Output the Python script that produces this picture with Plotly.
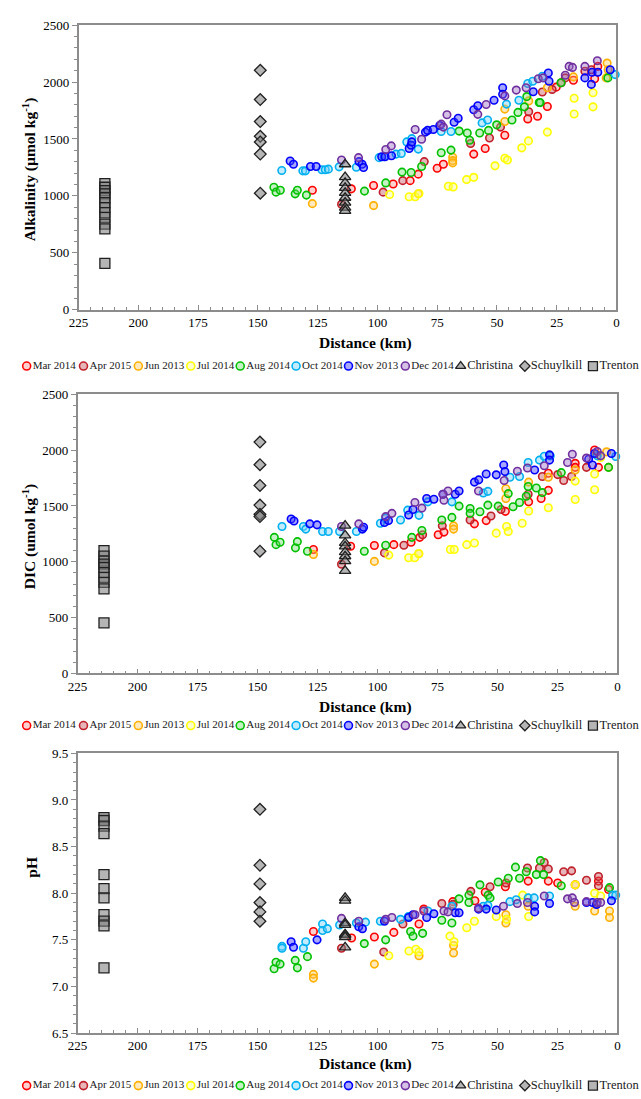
import plotly.graph_objects as go

W, H = 641, 1099

# ---------------- data: Alkalinity (umol/kg) vs distance (km) ----------------
MAR14_ALK_KM = [127.2, 110.9, 101.6, 93.4, 86.3, 82.9, 75.0, 72.4, 59.7, 54.9, 46.7, 37.1, 33.0, 28.9, 25.2, 18.0, 9.1, 7.8]
MAR14_ALK = [1050, 1062, 1091, 1105, 1134, 1191, 1243, 1278, 1367, 1416, 1532, 1676, 1699, 1785, 1955, 2016, 2028, 2137]
APR15_ALK_KM = [115.0, 97.6, 89.4, 80.4, 61.0, 53.1, 48.5, 36.7, 31.0, 26.9, 23.1, 21.4, 13.2, 10.5]
APR15_ALK = [926, 1033, 1134, 1301, 1460, 1509, 1604, 1739, 1912, 1935, 1993, 2036, 2094, 2108]
JUN13_ALK_KM = [127.2, 101.6, 82.9, 68.5, 68.5, 68.5, 46.7, 46.7, 36.7, 28.9, 18.0, 4.3, 3.9, 3.5]
JUN13_ALK = [932, 915, 1018, 1340, 1310, 1290, 1653, 1762, 1834, 1950, 2045, 2036, 2166, 2108]
JUL14_ALK_KM = [94.9, 86.7, 84.2, 82.6, 70.3, 68.3, 62.7, 59.7, 50.8, 46.7, 45.6, 39.6, 36.8, 28.9, 17.7, 17.7, 9.8, 9.8]
JUL14_ALK = [1013, 992, 992, 1021, 1085, 1079, 1143, 1163, 1264, 1330, 1315, 1422, 1483, 1560, 1719, 1857, 1782, 1906]
AUG14_ALK_KM = [143.3, 142.4, 140.6, 134.4, 133.5, 129.7, 105.4, 96.5, 89.7, 85.9, 81.5, 73.3, 69.2, 65.8, 62.4,
                61.4, 57.2, 53.5, 50.1, 43.7, 41.2, 38.5, 37.5, 32.3, 31.9, 23.2, 3.6]
AUG14_ALK = [1076, 1033, 1050, 1018, 1050, 1007, 1042, 1114, 1209, 1206, 1258, 1379, 1402, 1569, 1552,
             1488, 1552, 1575, 1624, 1667, 1733, 1782, 1872, 1820, 1819, 1993, 2036]
OCT14_ALK_KM = [140.0, 131.2, 130.1, 123.2, 121.8, 120.5, 116.0, 108.8, 99.3, 97.2, 92.2, 90.0, 87.7, 85.6, 82.9,
                73.3, 69.2, 56.2, 53.9, 46.0, 40.8, 37.1, 35.0, 31.0, 0.5]
OCT14_ALK = [1223, 1220, 1220, 1229, 1229, 1235, 1255, 1252, 1336, 1344, 1367, 1373, 1474, 1503, 1411,
             1566, 1566, 1641, 1667, 1806, 1840, 1987, 2007, 2051, 2065]
NOV13_ALK_KM = [136.5, 135.1, 128.0, 125.6, 107.7, 106.4, 105.8, 98.2, 96.8, 94.1, 86.7, 85.9, 85.6, 79.9, 79.0,
                76.6, 73.9, 67.9, 66.2, 59.7, 58.0, 51.2, 47.6, 47.6, 34.8, 28.5, 28.2, 13.2, 10.5, 10.2, 7.8, 2.6]
NOV13_ALK = [1307, 1278, 1258, 1258, 1301, 1278, 1249, 1344, 1344, 1353, 1416, 1445, 1474, 1560, 1575,
             1583, 1618, 1647, 1682, 1757, 1791, 1840, 1950, 1892, 1915, 2079, 2007, 2036, 1979, 2085, 2085, 2108]
DEC14_ALK_KM = [115.0, 107.9, 96.5, 94.2, 84.2, 81.5, 73.3, 72.4, 70.9, 58.0, 54.5, 46.7, 41.9, 37.8, 32.7, 30.7,
                21.4, 19.8, 18.4, 13.2, 8.0]
DEC14_ALK = [1315, 1336, 1408, 1439, 1583, 1497, 1630, 1604, 1713, 1716, 1803, 1878, 1929, 1950, 2028, 2036,
             2059, 2137, 2128, 2137, 2186]
CHRISTINA_ALK = [1278, 1165, 1114, 1070, 1027, 984, 941, 897, 868]
SCHUYLKILL_ALK = [2103, 1846, 1653, 1523, 1474, 1367, 1024]
TRENTON_ALK = [1108, 1076, 1047, 1018, 984, 941, 897, 854, 811, 753, 710, 407]

# ---------------- data: DIC (umol/kg) vs distance (km) ----------------
MAR14_DIC_KM = [126.7, 111.2, 101.3, 93.2, 86.0, 82.4, 74.7, 72.3, 59.6, 54.7, 46.7, 37.0, 31.8, 28.8, 28.8, 17.6,
                17.6, 9.5, 7.9]
MAR14_DIC = [1110, 1140, 1146, 1154, 1175, 1219, 1243, 1266, 1340, 1369, 1452, 1537, 1567, 1640, 1793, 1882,
             1846, 2002, 1846]
APR15_DIC_KM = [115.0, 97.1, 89.0, 81.2, 73.0, 61.4, 52.7, 48.5, 37.2, 31.3, 24.9, 22.4, 19.1, 12.9]
APR15_DIC = [978, 1080, 1148, 1243, 1322, 1375, 1410, 1469, 1605, 1764, 1781, 1729, 1764, 1846]
JUN13_DIC_KM = [126.7, 101.3, 82.8, 68.3, 68.3, 46.5, 46.5, 37.0, 28.8, 17.6, 8.7, 4.5, 3.7]
JUN13_DIC = [1066, 1004, 1072, 1322, 1293, 1567, 1655, 1714, 1758, 1823, 1964, 1985, 1846]
JUL14_DIC_KM = [95.3, 87.0, 84.5, 82.8, 69.6, 68.0, 62.8, 59.6, 50.5, 46.2, 45.5, 39.7, 37.0, 28.8, 17.6, 17.6,
                9.5, 9.5, 7.0]
JUL14_DIC = [1060, 1036, 1036, 1075, 1110, 1110, 1154, 1169, 1257, 1316, 1272, 1346, 1455, 1484, 1558, 1723,
             1646, 1787, 1935]
AUG14_DIC_KM = [143.0, 142.3, 140.6, 134.2, 133.4, 129.2, 105.5, 96.6, 85.7, 81.5, 73.2, 69.0, 66.0, 61.4, 61.4,
                57.3, 54.0, 49.7, 45.5, 43.5, 40.8, 38.0, 37.2, 33.8, 31.3, 23.4, 3.7]
AUG14_DIC = [1219, 1154, 1175, 1125, 1181, 1095, 1095, 1148, 1219, 1281, 1375, 1398, 1499, 1478, 1434,
             1449, 1508, 1499, 1611, 1493, 1531, 1587, 1675, 1661, 1620, 1799, 1846]
OCT14_DIC_KM = [139.8, 130.9, 129.9, 122.9, 120.5, 115.8, 108.8, 98.8, 96.6, 90.4, 87.4, 82.7, 79.0, 69.0, 55.9,
                54.0, 44.8, 40.8, 37.2, 32.5, 30.5, 28.0, 8.4, 0.7]
OCT14_DIC = [1316, 1316, 1293, 1272, 1272, 1272, 1272, 1346, 1390, 1375, 1463, 1416, 1537, 1537, 1617,
             1631, 1758, 1764, 1890, 1911, 1946, 1949, 1949, 1943]
NOV13_DIC_KM = [136.0, 134.8, 128.2, 125.2, 106.3, 105.8, 97.1, 95.4, 87.0, 85.2, 79.5, 76.5, 72.7, 67.6, 66.0,
                59.6, 57.8, 54.7, 50.5, 47.4, 46.9, 34.5, 28.3, 28.3, 12.0, 10.4, 9.5, 2.5]
NOV13_DIC = [1384, 1366, 1340, 1331, 1293, 1310, 1352, 1369, 1419, 1469, 1567, 1561, 1605, 1605, 1634,
             1714, 1734, 1787, 1779, 1867, 1808, 1823, 1958, 1911, 1920, 1867, 1970, 1970]
DEC14_DIC_KM = [115.0, 107.8, 96.6, 94.0, 84.4, 81.5, 72.3, 70.6, 72.7, 57.9, 47.2, 41.7, 37.5, 30.5, 20.8, 18.8,
                12.9, 8.4, 7.0]
DEC14_DIC = [1316, 1340, 1405, 1434, 1531, 1481, 1552, 1634, 1605, 1634, 1729, 1811, 1840, 1861, 1890, 1964,
             1929, 1988, 1949]
CHRISTINA_DIC = [1325, 1237, 1169, 1139, 1087, 1050, 1007, 919]
SCHUYLKILL_DIC = [2073, 1870, 1684, 1508, 1425, 1405, 1095]
TRENTON_DIC = [1100, 1051, 1007, 980, 948, 904, 860, 816, 757, 453]

# ---------------- data: pH vs distance (km) ----------------
MAR14_PH_KM = [126.7, 110.8, 101.3, 93.2, 82.7, 80.7, 68.6, 59.4, 55.1, 46.7, 37.2, 28.8, 24.9, 17.6, 7.9, 3.7]
MAR14_PH = [7.59, 7.52, 7.53, 7.58, 7.67, 7.83, 7.91, 7.92, 8.01, 8.07, 8.13, 8.13, 8.11, 8.09, 8.13, 8.04]
APR15_PH_KM = [115.0, 97.4, 89.4, 73.2, 68.5, 61.1, 53.1, 46.4, 37.5, 32.5, 30.5, 28.8, 22.4, 19.1, 12.9, 7.9, 7.9]
APR15_PH = [7.41, 7.37, 7.67, 7.89, 7.88, 8.02, 8.07, 8.11, 8.27, 8.27, 8.33, 8.26, 8.23, 8.24, 8.14, 8.18, 8.08]
JUN13_PH_KM = [126.7, 126.7, 101.3, 82.7, 68.3, 68.3, 46.5, 46.5, 37.2, 17.6, 9.5, 3.3, 3.3]
JUN13_PH = [7.13, 7.09, 7.24, 7.33, 7.44, 7.36, 7.77, 7.68, 7.86, 7.86, 7.81, 7.74, 7.81]
JUL14_PH_KM = [95.3, 86.9, 84.0, 82.7, 69.8, 68.1, 62.8, 59.6, 50.5, 46.2, 39.5, 37.0, 17.6, 9.5, 7.0]
JUL14_PH = [7.33, 7.38, 7.40, 7.37, 7.54, 7.48, 7.63, 7.70, 7.75, 7.72, 7.98, 7.75, 8.09, 8.00, 7.97]
AUG14_PH_KM = [143.1, 142.3, 140.6, 134.3, 133.4, 129.2, 105.5, 96.6, 86.2, 85.2, 81.2, 73.2, 69.0, 66.0, 61.9,
               61.9, 57.3, 53.9, 53.1, 49.7, 45.5, 42.5, 40.8, 38.0, 32.1, 33.8, 30.8, 23.4, 3.3]
AUG14_PH = [7.19, 7.26, 7.24, 7.28, 7.20, 7.32, 7.46, 7.50, 7.59, 7.54, 7.57, 7.71, 7.68, 7.94, 7.98,
            7.90, 8.09, 7.98, 7.95, 8.12, 8.16, 8.28, 8.16, 8.23, 8.35, 8.20, 8.20, 8.08, 8.06]
OCT14_PH_KM = [139.8, 139.8, 130.9, 129.9, 122.9, 122.9, 120.9, 115.8, 108.8, 105.0, 98.8, 90.4, 87.1, 79.0, 69.0,
               55.9, 54.0, 44.8, 42.2, 37.2, 34.7, 28.3, 2.0, 0.7]
OCT14_PH = [7.43, 7.41, 7.41, 7.48, 7.67, 7.60, 7.62, 7.66, 7.68, 7.69, 7.70, 7.72, 7.75, 7.81, 7.86,
            7.86, 7.87, 7.91, 7.93, 7.95, 7.95, 7.97, 7.98, 7.98]
NOV13_PH_KM = [136.0, 135.0, 125.2, 107.8, 106.3, 97.1, 87.0, 85.2, 79.5, 76.5, 67.6, 66.0, 57.9, 54.7, 50.5,
               34.5, 34.5, 28.3, 12.9, 10.4, 8.7, 2.5]
NOV13_PH = [7.48, 7.42, 7.50, 7.64, 7.62, 7.70, 7.74, 7.77, 7.74, 7.78, 7.79, 7.79, 7.83, 7.83, 7.82,
            7.86, 7.80, 7.89, 7.90, 7.90, 7.88, 7.92]
DEC14_PH_KM = [115.0, 107.8, 96.6, 94.0, 84.4, 80.7, 72.3, 70.6, 57.9, 47.5, 41.7, 37.5, 30.5, 20.8, 18.8, 17.9,
               12.9, 8.4, 7.0]
DEC14_PH = [7.73, 7.70, 7.72, 7.74, 7.77, 7.81, 7.81, 7.80, 7.84, 7.86, 7.89, 7.90, 7.97, 7.94, 7.95, 7.90,
            7.91, 7.90, 7.90]
CHRISTINA_PH = [7.95, 7.92, 7.68, 7.66, 7.56, 7.55, 7.53, 7.42]
SCHUYLKILL_PH = [8.90, 8.30, 8.10, 7.90, 7.80, 7.70]
TRENTON_PH = [8.81, 8.78, 8.72, 8.64, 8.20, 8.05, 7.95, 7.77, 7.70, 7.65, 7.20]

# river-mile positions of the end-member stations
CHRISTINA_KM = 113.5
SCHUYLKILL_KM = 149.0
TRENTON_KM = 214.0

SURVEYS = ["Mar 2014", "Apr 2015", "Jun 2013", "Jul 2014", "Aug 2014", "Oct 2014", "Nov 2013", "Dec 2014"]
ENDMEMBERS = ["Christina", "Schuylkill", "Trenton"]

# ---------------- styling ----------------
SURVEY_LINE = ["#FF0000", "#C0202A", "#FFB000", "#FFFF00", "#00C000", "#00B0F0", "#0000FF", "#7030A0"]
SURVEY_FILL = ["rgba(255,120,120,0.35)", "rgba(200,90,100,0.45)", "rgba(255,200,90,0.4)",
               "rgba(255,255,120,0.4)", "rgba(110,220,110,0.4)", "rgba(120,210,250,0.45)",
               "rgba(60,60,255,0.45)", "rgba(150,100,190,0.4)"]
END_SYMBOL = ["triangle-up", "diamond", "square"]
END_SIZE = [10, 9, 10]
END_FILL = "rgba(120,120,120,0.55)"
END_LINE = "#202020"
SERIF = "Liberation Serif, Times New Roman, serif"

panels = [
    dict(km=[MAR14_ALK_KM, APR15_ALK_KM, JUN13_ALK_KM, JUL14_ALK_KM, AUG14_ALK_KM, OCT14_ALK_KM, NOV13_ALK_KM, DEC14_ALK_KM],
         val=[MAR14_ALK, APR15_ALK, JUN13_ALK, JUL14_ALK, AUG14_ALK, OCT14_ALK, NOV13_ALK, DEC14_ALK],
         ends=[CHRISTINA_ALK, SCHUYLKILL_ALK, TRENTON_ALK]),
    dict(km=[MAR14_DIC_KM, APR15_DIC_KM, JUN13_DIC_KM, JUL14_DIC_KM, AUG14_DIC_KM, OCT14_DIC_KM, NOV13_DIC_KM, DEC14_DIC_KM],
         val=[MAR14_DIC, APR15_DIC, JUN13_DIC, JUL14_DIC, AUG14_DIC, OCT14_DIC, NOV13_DIC, DEC14_DIC],
         ends=[CHRISTINA_DIC, SCHUYLKILL_DIC, TRENTON_DIC]),
    dict(km=[MAR14_PH_KM, APR15_PH_KM, JUN13_PH_KM, JUL14_PH_KM, AUG14_PH_KM, OCT14_PH_KM, NOV13_PH_KM, DEC14_PH_KM],
         val=[MAR14_PH, APR15_PH, JUN13_PH, JUL14_PH, AUG14_PH, OCT14_PH, NOV13_PH, DEC14_PH],
         ends=[CHRISTINA_PH, SCHUYLKILL_PH, TRENTON_PH]),
]
end_km = [CHRISTINA_KM, SCHUYLKILL_KM, TRENTON_KM]

# plot boxes in pixels: (left, right, top, bottom)
BOXES = [(70, 619, 18.3, 307), (69, 620, 392.7, 675.7), (69, 620, 756.7, 1040.3)]
Y_RANGES = [[0, 2500], [0, 2500], [6.5, 9.5]]
Y_DTICK = [500, 500, 0.5]
Y_MINOR = [100, 100, 0.1]
Y_FMT = ["d", "d", ".1f"]
Y_TITLES = ["Alkalinity (µmol kg<sup>-1</sup>)", "DIC (umol kg<sup>-1</sup>)", "pH"]
Y_TITLE_POS = [(20, 165), (20, 537), (22, 872)]
X_TITLE_Y = [341, 710, 1072]
LEGEND_Y = [364, 728.5, 1093.5]
LEGEND_X = [17, 75, 131, 184.5, 235, 292, 345.5, 403.5, 460, 525.5, 595]

fig = go.Figure()
layout = dict(width=W, height=H, margin=dict(l=0, r=0, t=0, b=0),
              paper_bgcolor="white", plot_bgcolor="rgba(0,0,0,0)", showlegend=False,
              font=dict(family=SERIF, color="black"))
annotations = []

for p, panel in enumerate(panels):
    n = "" if p == 0 else str(p + 1)
    xa, ya = "x" + n, "y" + n
    for i, name in enumerate(SURVEYS):
        fig.add_trace(go.Scatter(
            x=panel["km"][i], y=panel["val"][i], mode="markers", name=name,
            xaxis=xa, yaxis=ya, cliponaxis=False, hoverinfo="skip",
            marker=dict(symbol="circle", size=7.5, color=SURVEY_FILL[i],
                        line=dict(color=SURVEY_LINE[i], width=1.6))))
    for j, name in enumerate(ENDMEMBERS):
        vals = panel["ends"][j]
        fig.add_trace(go.Scatter(
            x=[end_km[j]] * len(vals), y=vals, mode="markers", name=name,
            xaxis=xa, yaxis=ya, cliponaxis=False, hoverinfo="skip",
            marker=dict(symbol=END_SYMBOL[j], size=END_SIZE[j], color=END_FILL,
                        line=dict(color=END_LINE, width=1.3))))

    l, r, t, b = BOXES[p]
    axis_common = dict(showgrid=False, zeroline=False, showline=True, linecolor="#8C8C8C",
                       linewidth=1.5, mirror=True, tickfont=dict(family=SERIF, size=13, color="black"))
    layout["xaxis" + n] = dict(axis_common, domain=[l / W, r / W], anchor=ya, range=[225, 0],
                               tick0=0, dtick=25, ticks="inside", ticklen=5, tickcolor="#8C8C8C",
                               minor=dict(dtick=5, ticks="inside", ticklen=3, tickcolor="#8C8C8C"))
    layout["yaxis" + n] = dict(axis_common, domain=[1 - b / H, 1 - t / H], anchor=xa,
                               range=Y_RANGES[p], dtick=Y_DTICK[p], tickformat=Y_FMT[p],
                               ticks="outside", ticklen=5, tickcolor="#8C8C8C",
                               minor=dict(dtick=Y_MINOR[p], ticks="outside", ticklen=3, tickcolor="#8C8C8C"))

    # axis titles
    tx, ty = Y_TITLE_POS[p]
    annotations.append(dict(text=f"<b>{Y_TITLES[p]}</b>", x=tx / W, y=1 - ty / H, xref="paper", yref="paper",
                            textangle=-90, showarrow=False, font=dict(family=SERIF, size=15.5, color="black"),
                            xanchor="center", yanchor="middle"))
    annotations.append(dict(text="<b>Distance (km)</b>", x=362.5 / W, y=1 - X_TITLE_Y[p] / H,
                            xref="paper", yref="paper", showarrow=False,
                            font=dict(family=SERIF, size=15.5, color="black"),
                            xanchor="center", yanchor="middle"))

    # per-panel key row, drawn on a pixel-space overlay axis
    for k in range(len(SURVEYS) + len(ENDMEMBERS)):
        if k < len(SURVEYS):
            sym, size, fill, line, lw, label, fs = ("circle", 8, SURVEY_FILL[k], SURVEY_LINE[k], 1.6,
                                                    SURVEYS[k], 11)
        else:
            j = k - len(SURVEYS)
            sym, size, fill, line, lw, label, fs = (END_SYMBOL[j], END_SIZE[j] - 1, END_FILL, END_LINE, 1.3,
                                                    ENDMEMBERS[j], 12.5)
        fig.add_trace(go.Scatter(
            x=[LEGEND_X[k]], y=[LEGEND_Y[p]], mode="markers+text", text=[label],
            textposition="middle right", xaxis="x4", yaxis="y4", cliponaxis=False, hoverinfo="skip",
            textfont=dict(family=SERIF, size=fs, color="#202020"),
            marker=dict(symbol=sym, size=size, color=fill, line=dict(color=line, width=lw))))

layout["xaxis4"] = dict(domain=[0, 1], range=[0, W], visible=False, anchor="y4", fixedrange=True)
layout["yaxis4"] = dict(domain=[0, 1], range=[H, 0], visible=False, anchor="x4", fixedrange=True)
layout["annotations"] = annotations
fig.update_layout(**layout)

fig.write_html("out.html", config={"displayModeBar": False})
